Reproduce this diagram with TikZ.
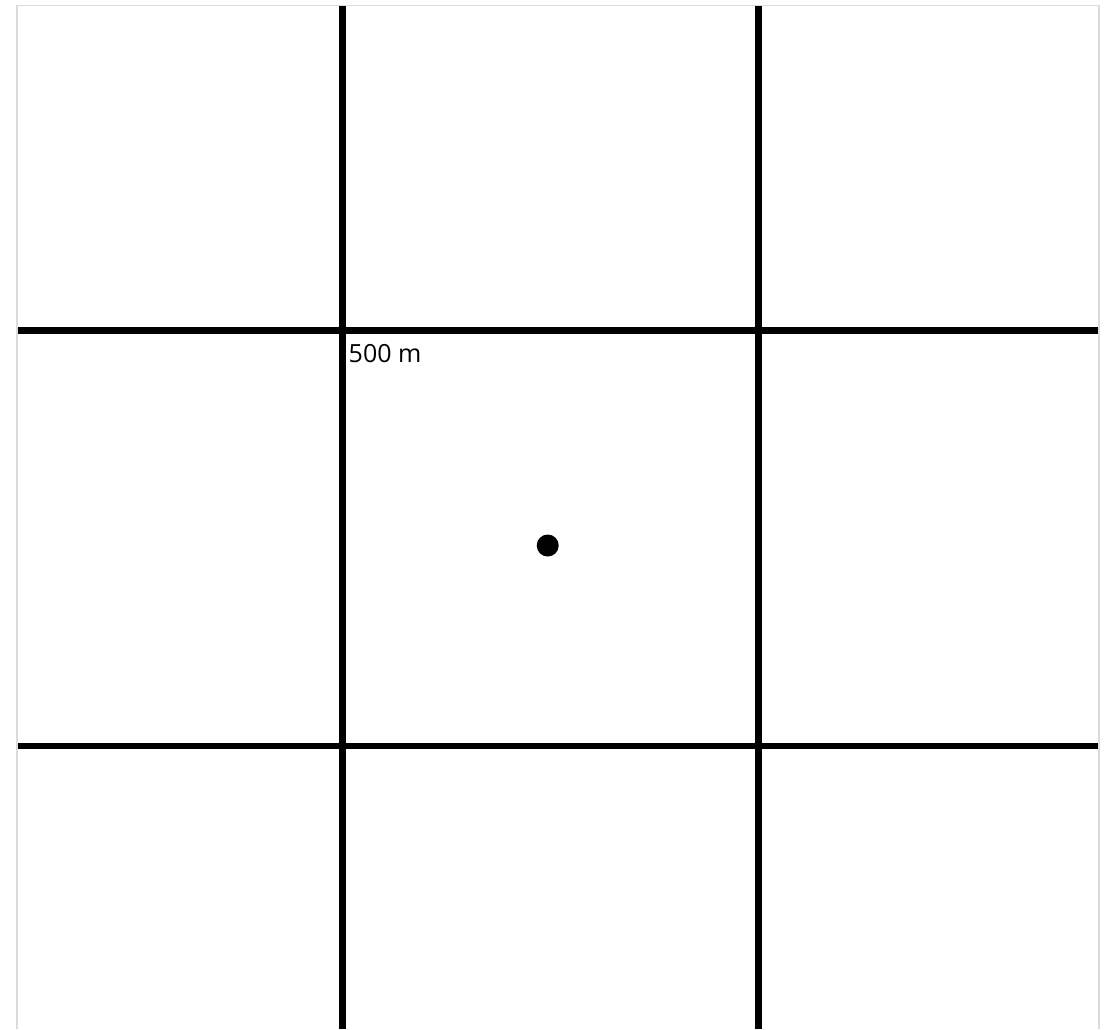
\documentclass[tikz,border=0pt]{standalone}
\usepackage{fontspec}
\setmainfont{Open Sans}
\begin{document}
\begin{tikzpicture}[x=1pt,y=-1pt,
  gridline/.style={line width=6.5pt,black},
  frameline/.style={draw=black!14,line width=1.5pt},
  lbl/.style={font=\fontsize{25}{28}\selectfont,inner sep=0pt,anchor=base west},
  marker/.style={circle,fill=black,minimum size=22pt,inner sep=0pt}]
\useasboundingbox (0,0) rectangle (1107,1029);
\fill[white] (0,0) rectangle (1107,1029);
% frame
\draw[frameline] (17,1029) -- (17,5.5) -- (1098.8,5.5) -- (1098.8,1029);
% grid
\draw[gridline] (342.3,6) -- (342.3,1029);
\draw[gridline] (758.3,6) -- (758.3,1029);
\draw[gridline] (18,330.3) -- (1098.3,330.3);
\draw[gridline] (18,746) -- (1098.3,746);
% label and point
\node[lbl] (scale) at (348.5,362.5) {500 m};
\node[marker] (pt) at (547.7,545.5) {};
\end{tikzpicture}
\end{document}
